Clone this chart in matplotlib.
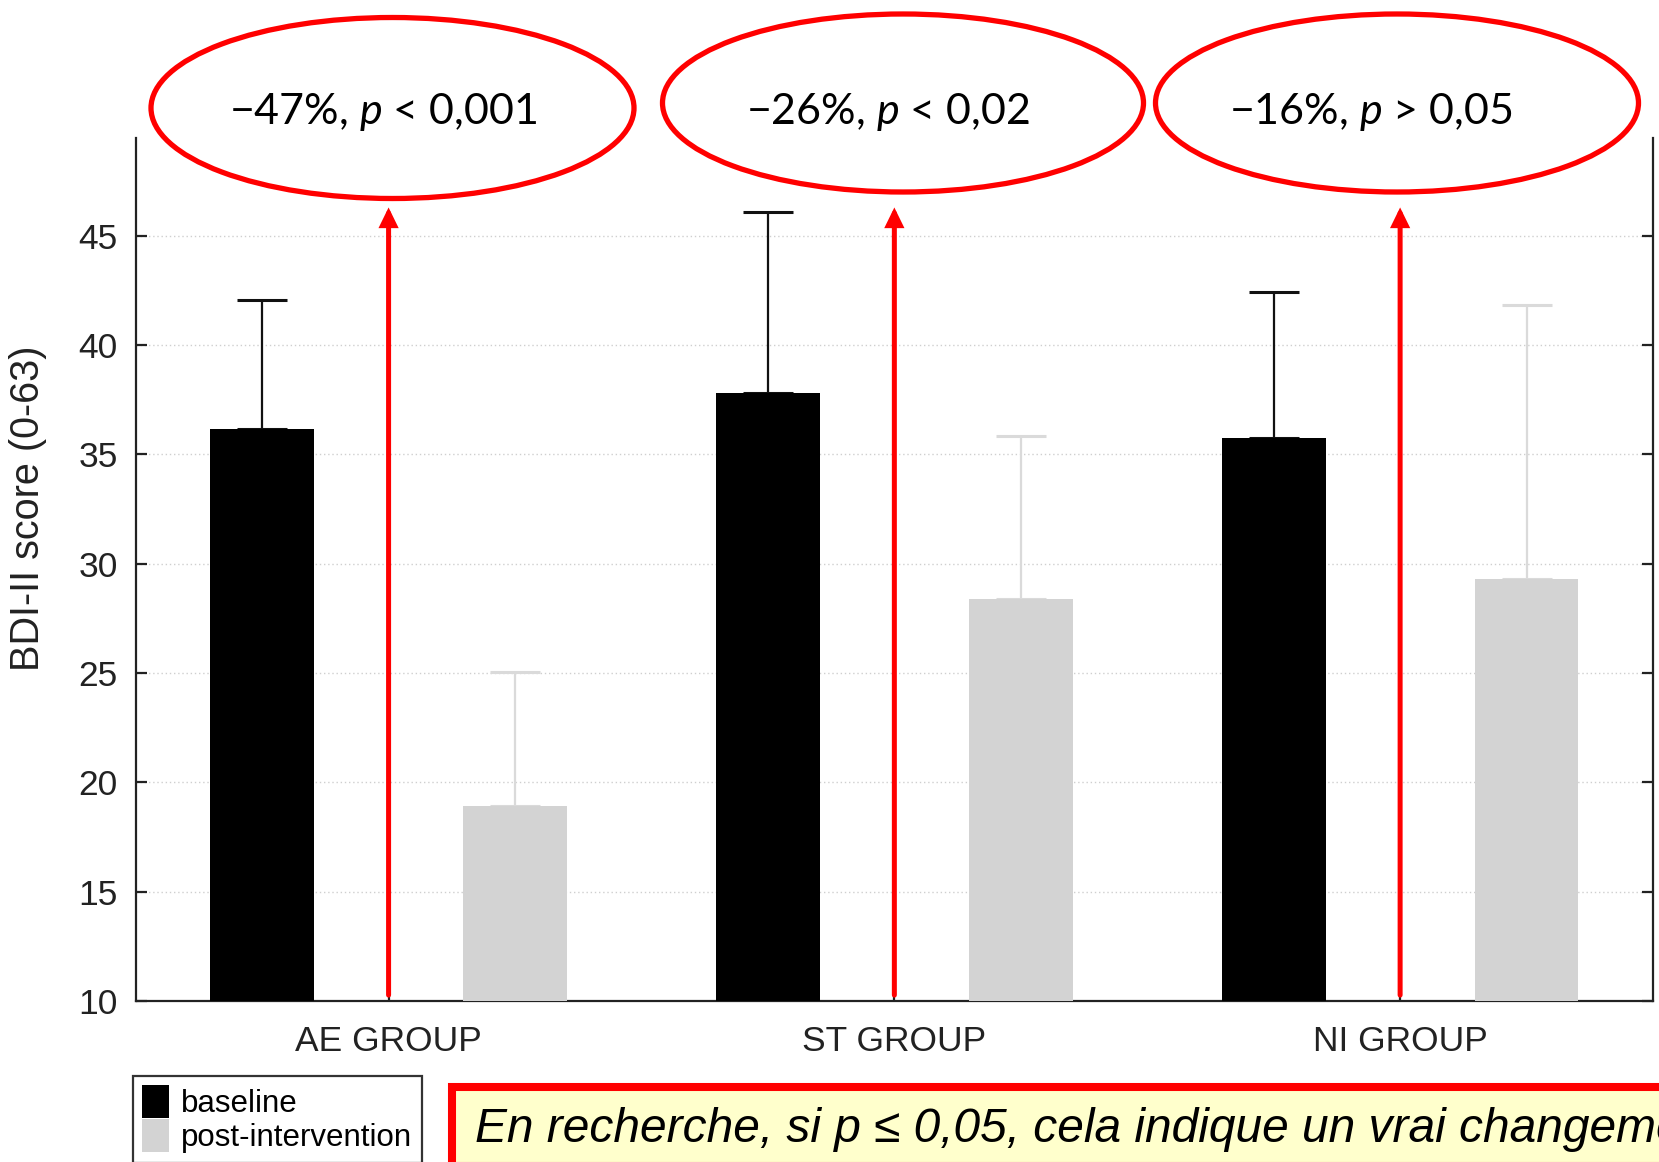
import matplotlib
matplotlib.use('Agg')
import matplotlib.pyplot as plt
from matplotlib.patches import Ellipse, Rectangle, FancyArrowPatch, ArrowStyle
import numpy as np

# ---------------- data ----------------
groups = ['AE GROUP', 'ST GROUP', 'NI GROUP']
baseline_mean = [36.15, 37.8, 35.75]
baseline_upper = [42.05, 46.1, 42.45]
post_mean = [18.9, 28.4, 29.3]
post_upper = [25.05, 35.85, 41.85]
series_labels = ['baseline', 'post-intervention']
change_pct = ['−47%', '−26%', '−16%']
p_sign = ['<', '<', '>']
p_value = ['0,001', '0,02', '0,05']
yticks = [10, 15, 20, 25, 30, 35, 40, 45]
ylabel = 'BDI-II score (0-63)'
note = 'En recherche, si p ≤ 0,05, cela indique un vrai changement'

# ---------------- style ----------------
plt.rcParams['font.family'] = ['Liberation Sans', 'DejaVu Sans']
plt.rcParams['mathtext.fontset'] = 'custom'
plt.rcParams['mathtext.rm'] = 'Lato'
plt.rcParams['mathtext.it'] = 'Lato:italic'

W, H = 1659, 1162
fig = plt.figure(figsize=(W / 100, H / 100), dpi=100)
fig.patch.set_facecolor('white')

ax_left, ax_right, ax_top, ax_bottom = 135.7, 1653.0, 137.5, 1001.0
ax = fig.add_axes([ax_left / W, (H - ax_bottom) / H,
                   (ax_right - ax_left) / W, (ax_bottom - ax_top) / H])

x = np.arange(len(groups))
bw = 0.205
off = 0.25
black = '#000000'
gray = '#d3d3d3'

bm = np.array(baseline_mean)
bu = np.array(baseline_upper)
pm = np.array(post_mean)
pu = np.array(post_upper)

b1 = ax.bar(x - off, bm, bw, color=black, zorder=3, label=series_labels[0])
b2 = ax.bar(x + off, pm, bw, color=gray, zorder=3, label=series_labels[1])
ax.errorbar(x - off, bm + 0.1, yerr=[np.zeros(3) + 0.1, bu - bm - 0.1], fmt='none', ecolor='#111111',
            elinewidth=1.6, capsize=18, capthick=2.2, zorder=2)
ax.errorbar(x + off, pm + 0.1, yerr=[np.zeros(3) + 0.1, pu - pm - 0.1], fmt='none', ecolor='#dadada',
            elinewidth=1.6, capsize=18, capthick=2.2, zorder=2)

ax.set_xlim(-0.5, 2.5)
ax.set_ylim(10, 49.5)
ax.set_yticks(yticks)
ax.set_xticks(x)
ax.set_xticklabels(groups)
ax.set_axisbelow(True)
ax.yaxis.grid(True, linestyle=(0, (1, 2)), color='#cfcfcf', linewidth=1.0)

for s in ['left', 'bottom', 'right']:
    ax.spines[s].set_linewidth(1.6)
    ax.spines[s].set_color('#222222')
ax.spines['top'].set_visible(False)

ax.tick_params(axis='y', direction='in', length=8, width=1.6, left=True, right=True,
               labelsize=25.5, pad=13, colors='#222222', labelcolor='#222222')
ax.tick_params(axis='x', direction='in', length=5, width=1.6, labelsize=25.5, pad=17,
               colors='#222222', labelcolor='#222222')

ax.set_ylabel(ylabel, fontsize=28.5, color='#222222')
ax.yaxis.set_label_coords((47 - ax_left) / (ax_right - ax_left), (ax_bottom - 508) / (ax_bottom - ax_top))

# legend
leg = ax.legend(handles=[b1, b2], labels=series_labels, loc='upper left',
                bbox_to_anchor=(133 / W, 1 - 1076 / H), bbox_transform=fig.transFigure,
                fontsize=22.5, frameon=True, fancybox=False, edgecolor='#333333',
                borderpad=0.3, handlelength=0.85, handleheight=1.25, handletextpad=0.4,
                labelspacing=0.0, borderaxespad=0)
leg.get_frame().set_linewidth(1.6)
leg.get_frame().set_alpha(1)

# red arrows
astyle = ArrowStyle('-|>', head_length=0.45, head_width=0.22)
for xi in x:
    arr = FancyArrowPatch((xi, 10.27), (xi, 46.3), arrowstyle=astyle, mutation_scale=20,
                          lw=3.6, color='#ff0000', shrinkA=0, shrinkB=0, zorder=5,
                          clip_on=False, joinstyle='miter')
    ax.add_patch(arr)

# ellipses
ell_geom = [(392.5, 108, 483, 181), (903, 103, 481, 178), (1397, 103, 483, 178)]
txt_pos = [(383, 124), (888, 124), (1371, 124)]
for (cx, cy, ew, eh), (tx, ty), c, s, pv in zip(ell_geom, txt_pos, change_pct, p_sign, p_value):
    e = Ellipse((cx / W, 1 - cy / H), ew / W, eh / H, transform=fig.transFigure,
                fill=False, edgecolor='#ff0000', linewidth=3.8)
    fig.add_artist(e)
    fig.text(tx / W, 1 - ty / H, c + ', $p$ ' + s + ' ' + pv, ha='center', va='baseline',
             fontsize=31, family=['Lato', 'DejaVu Sans'], color='black')

# bottom note box
rect = Rectangle((452 / W, 1 - 1166 / H), (1700 - 452) / W, (1166 - 1087) / H,
                 transform=fig.transFigure, facecolor='#ffffcc', edgecolor='#ff0000',
                 linewidth=5.8)
fig.add_artist(rect)
fig.text(475 / W, 1 - 1142 / H, note, ha='left', va='baseline', fontsize=34.5,
         style='italic', color='black')

fig.savefig('out.png', dpi=100)
